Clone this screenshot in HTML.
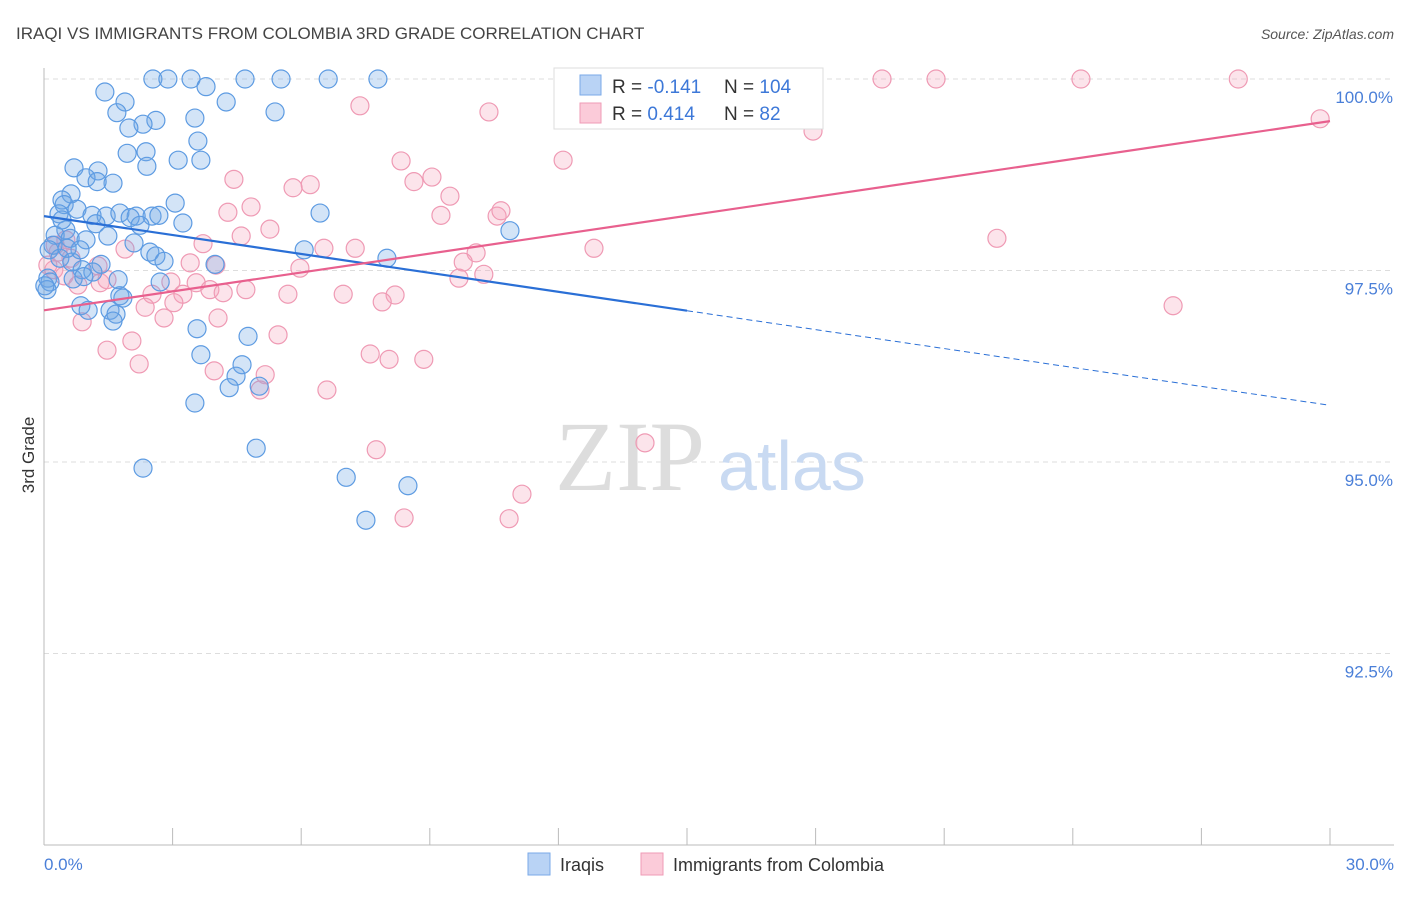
<!DOCTYPE html>
<html><head><meta charset="utf-8"><style>
body{margin:0;background:#fff;font-family:"Liberation Sans",sans-serif;}
svg text{font-family:"Liberation Sans",sans-serif;}
</style></head><body>
<svg id="chart" width="1406" height="892">
<text x="16" y="39" font-size="17" fill="#444">IRAQI VS IMMIGRANTS FROM COLOMBIA 3RD GRADE CORRELATION CHART</text>
<text x="1394" y="39" font-size="14" fill="#555" text-anchor="end" font-style="italic">Source: ZipAtlas.com</text>
<g id="grid"></g>
<text x="555" y="490" font-size="100" fill="#ddd" font-family="Liberation Serif" style="font-family:'Liberation Serif',serif">ZIP</text>
<text x="718" y="490" font-size="70" fill="#c9daf2">atlas</text>
<g id="axes"></g>
<g id="pts"></g>
<g id="trends"></g>
<text transform="translate(34,455) rotate(-90)" font-size="17" fill="#333" text-anchor="middle">3rd Grade</text>
<g>
<rect x="554" y="68" width="269" height="61" fill="#fff" stroke="#ddd"/>
<rect x="580" y="75" width="21" height="20" fill="#b9d3f5" stroke="#7aaae8"/>
<rect x="580" y="103" width="21" height="20" fill="#fbcbd9" stroke="#ef9bb6"/>
<text x="612" y="93" font-size="19" fill="#333">R = <tspan fill="#3d78d8">-0.141</tspan></text>
<text x="724" y="93" font-size="19" fill="#333">N = <tspan fill="#3d78d8">104</tspan></text>
<text x="612" y="120" font-size="19" fill="#333">R = <tspan fill="#3d78d8"> 0.414</tspan></text>
<text x="724" y="120" font-size="19" fill="#333">N = <tspan fill="#3d78d8">  82</tspan></text>
</g>
<g>
<rect x="528" y="853" width="22" height="22" fill="#b9d3f5" stroke="#7aaae8"/>
<text x="560" y="871" font-size="18" fill="#333">Iraqis</text>
<rect x="641" y="853" width="22" height="22" fill="#fbcbd9" stroke="#ef9bb6"/>
<text x="673" y="871" font-size="18" fill="#333">Immigrants from Colombia</text>
</g>
</svg>
<script>
const yTicks=[100,97.5,95,92.5];
const yTickLabels=["100.0%","97.5%","95.0%","92.5%"];
const xEnds=["0.0%","30.0%"];
const iraqiX=[2.54,2.89,3.43,4.69,5.53,6.63,7.79,1.42,3.78,1.89,4.25,1.70,5.39,2.61,2.31,1.98,3.52,3.59,1.94,2.38,3.13,3.66,2.40,0.70,1.26,0.98,1.61,1.24,0.63,0.42,0.47,3.06,6.44,0.77,0.35,1.12,1.45,1.77,2.15,2.52,2.68,2.01,3.24,1.21,2.24,0.51,10.87,0.26,0.61,1.49,0.98,0.21,2.10,0.12,2.47,2.61,6.07,8.00,0.37,0.65,1.33,3.99,2.80,0.89,1.14,2.71,0.09,0.68,0.14,1.73,0.93,1.77,1.84,0.86,1.03,1.54,1.68,1.61,3.57,4.76,3.66,4.62,4.48,4.32,5.02,3.52,4.95,2.31,7.05,8.49,7.51,0.07,0.02,0.42,0.84,0.54];
const iraqiY=[100,100,100,100,100,100,100,99.83,99.90,99.70,99.70,99.56,99.57,99.46,99.41,99.36,99.49,99.19,99.03,99.05,98.94,98.94,98.86,98.84,98.80,98.71,98.64,98.66,98.50,98.42,98.36,98.38,98.25,98.30,98.24,98.22,98.21,98.25,98.21,98.21,98.22,98.19,98.12,98.11,98.09,98.03,98.02,97.96,97.92,97.95,97.90,97.83,97.86,97.77,97.74,97.69,97.77,97.66,97.66,97.61,97.58,97.58,97.62,97.51,97.48,97.35,97.40,97.39,97.35,97.38,97.42,97.17,97.14,97.04,96.98,96.98,96.93,96.84,96.74,96.64,96.40,96.27,96.12,95.97,95.99,95.77,95.18,94.92,94.80,94.69,94.24,97.25,97.30,98.16,97.77,97.79];
const colX=[13.83,19.55,20.81,24.19,27.86,7.37,10.38,29.77,17.94,12.11,8.33,6.21,4.43,5.81,8.63,9.05,9.47,4.83,4.29,9.26,10.57,10.66,5.27,4.60,3.71,6.53,7.26,12.83,22.23,10.08,0.51,0.26,0.63,1.26,1.89,5.97,3.41,4.01,9.78,10.26,9.68,2.96,3.55,0.23,0.47,0.79,1.31,3.24,2.52,3.87,4.71,4.18,5.69,6.98,8.19,7.89,2.36,3.03,1.47,0.89,2.80,4.06,26.34,5.46,2.05,1.47,7.61,8.05,8.86,2.22,3.97,5.16,5.04,6.60,14.02,7.75,11.15,8.40,10.85,0.09,0.33];
const colY=[100,100,100,100,100,99.65,99.57,99.48,99.32,98.94,98.93,98.62,98.69,98.58,98.66,98.72,98.47,98.33,98.26,98.22,98.21,98.28,98.04,97.95,97.85,97.79,97.79,97.79,97.92,97.73,97.90,97.83,97.66,97.56,97.78,97.53,97.60,97.57,97.61,97.45,97.40,97.35,97.34,97.51,97.43,97.31,97.34,97.19,97.19,97.25,97.25,97.21,97.19,97.19,97.18,97.09,97.02,97.08,97.38,96.83,96.88,96.88,97.04,96.66,96.58,96.46,96.41,96.34,96.34,96.28,96.19,96.14,95.94,95.94,95.25,95.16,94.58,94.27,94.26,97.57,97.74];
const iraqiTrend=[98.21,95.74];
const colTrend=[96.98,99.45];
const NS="http://www.w3.org/2000/svg";
const X=v=>44+v/30*1286;
const Y=v=>79+(100-v)*76.6;
function mk(tag,attrs,parent){const e=document.createElementNS(NS,tag);for(const k in attrs)e.setAttribute(k,attrs[k]);parent.appendChild(e);return e;}
const grid=document.getElementById('grid'),axes=document.getElementById('axes'),pts=document.getElementById('pts'),tr=document.getElementById('trends');
yTicks.forEach((t,i)=>{
 const l=mk('line',{x1:44,x2:1394,y1:Y(t),y2:Y(t),stroke:'#ddd','stroke-dasharray':'5,4'},grid);
 
 
 const tx=mk('text',{x:1393,y:Y(t)+24,'font-size':17,fill:'#4a7fd8','text-anchor':'end'},grid);
 tx.textContent=yTickLabels[i];
 
 
});
const ya=mk('line',{x1:44,x2:44,y1:68,y2:845,stroke:'#bbb'},axes);


const xa=mk('line',{x1:44,x2:1394,y1:845,y2:845,stroke:'#bbb'},axes);


for(let i=0;i<=10;i++){const t=mk('line',{x1:X(i*3),x2:X(i*3),y1:828,y2:845,stroke:'#bbb'},axes);
 
 }
[[0,'start',44],[30,'end',1394]].forEach((d,i)=>{const t=mk('text',{x:d[2],y:870,'font-size':17,fill:'#4a7fd8','text-anchor':d[1]},axes);t.textContent=xEnds[i];
 
 });
colX.forEach((x,i)=>{const c=mk('circle',{cx:X(x),cy:Y(colY[i]),r:9,fill:'rgba(246,166,190,0.3)',stroke:'#ef9ab4','stroke-width':1.2},pts);
 
 });
iraqiX.forEach((x,i)=>{const c=mk('circle',{cx:X(x),cy:Y(iraqiY[i]),r:9,fill:'rgba(110,165,230,0.3)',stroke:'#5d9be2','stroke-width':1.2},pts);
 
 });
const bAt=x=>iraqiTrend[0]+(iraqiTrend[1]-iraqiTrend[0])*x/30;
const l1=mk('line',{x1:X(0),y1:Y(bAt(0)),x2:X(15),y2:Y(bAt(15)),stroke:'#2a6fd6','stroke-width':2.2},tr);


const l2=mk('line',{x1:X(15),y1:Y(bAt(15)),x2:X(30),y2:Y(bAt(30)),stroke:'#2a6fd6','stroke-width':1,'stroke-dasharray':'6,4'},tr);


const l3=mk('line',{x1:X(0),y1:Y(colTrend[0]),x2:X(30),y2:Y(colTrend[1]),stroke:'#e8608e','stroke-width':2.2},tr);


</script>
</body></html>
